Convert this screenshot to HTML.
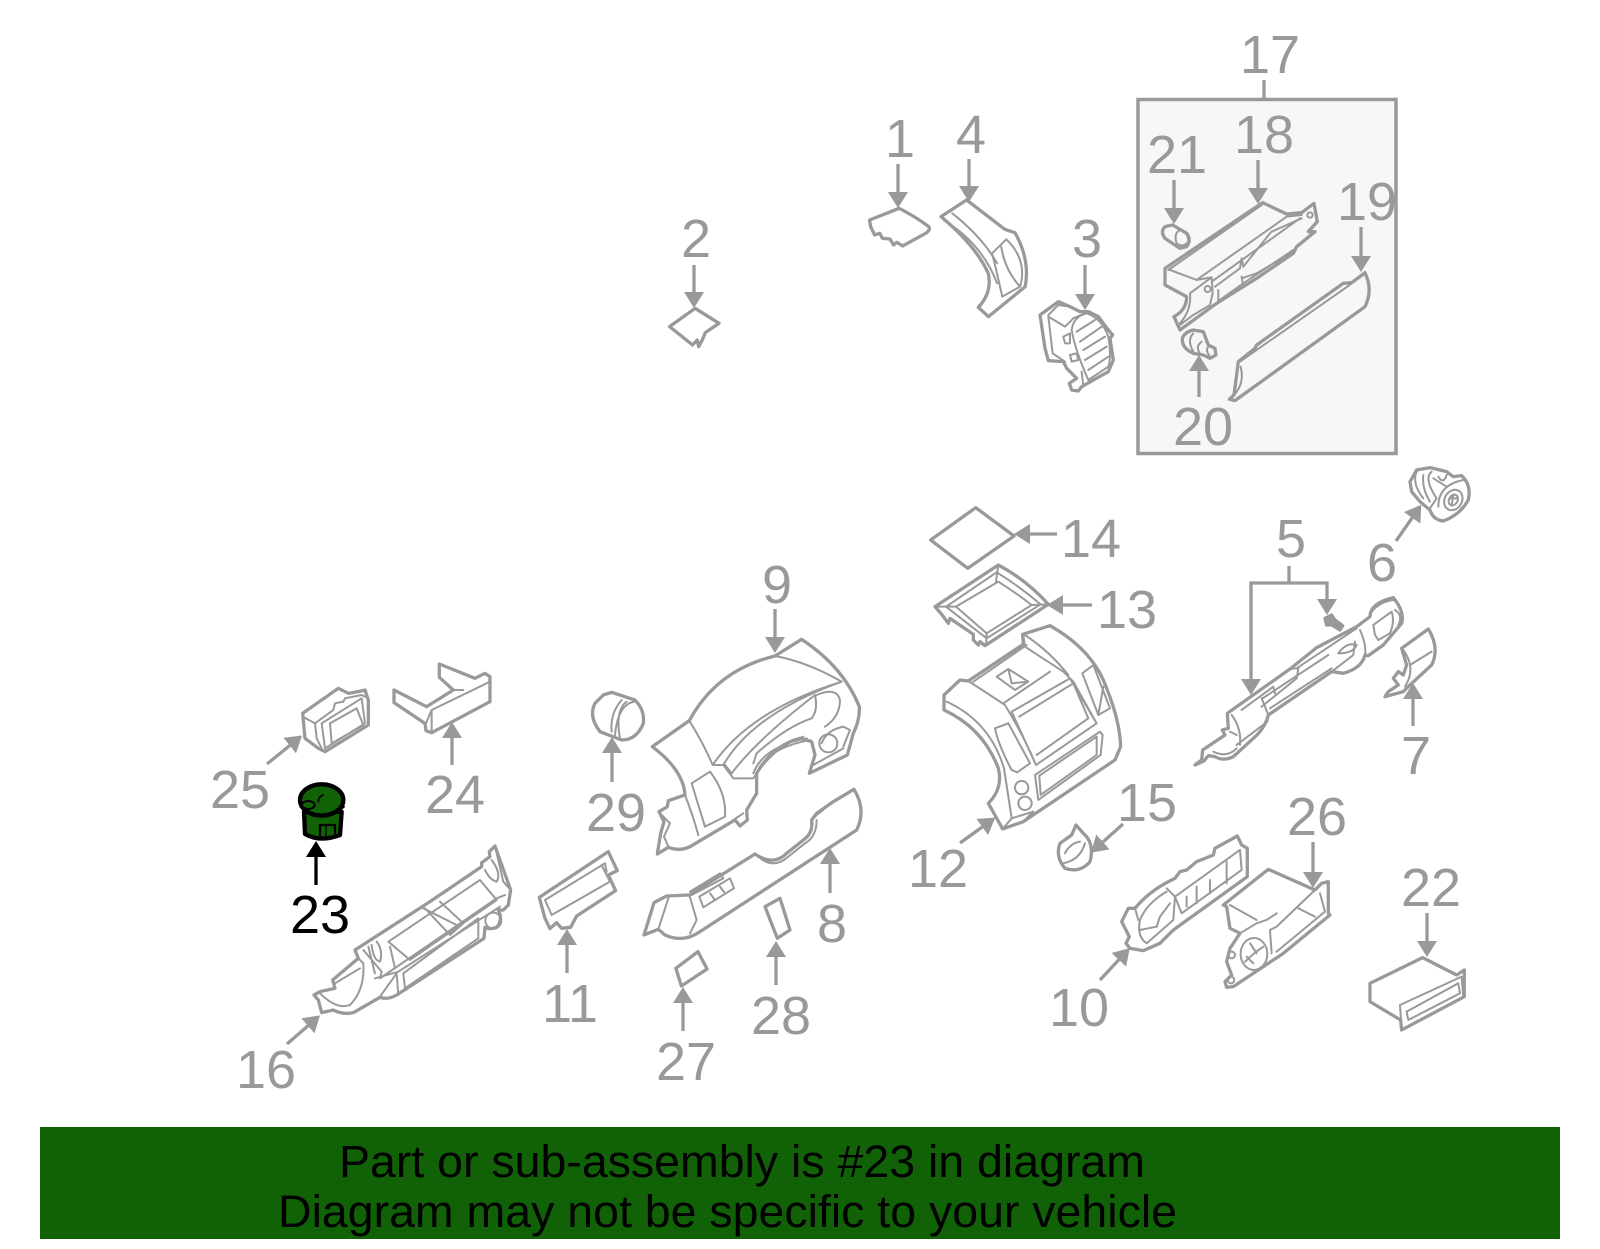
<!DOCTYPE html>
<html>
<head>
<meta charset="utf-8">
<style>
html,body{margin:0;padding:0;background:#fff;}
svg{display:block;}
.z *{fill:none;stroke:#999;stroke-width:3.3;vector-effect:non-scaling-stroke;stroke-linejoin:round;stroke-linecap:round;}
.z .t{stroke-width:2;}
.z .f{fill:#999;}
.a line,.a polyline{stroke:#999;stroke-width:3.3;fill:none;}
.l text{font-family:"Liberation Sans",sans-serif;font-size:54px;fill:#999;text-anchor:middle;}
</style>
</head>
<body>
<svg width="1600" height="1249" viewBox="0 0 1600 1249" xmlns="http://www.w3.org/2000/svg">
<defs>
<marker id="h" markerUnits="userSpaceOnUse" markerWidth="26" markerHeight="26" refX="12" refY="13" orient="auto"><polygon points="0,3 16,13 0,23" fill="#999"/></marker>
<marker id="k" markerUnits="userSpaceOnUse" markerWidth="26" markerHeight="26" refX="12" refY="13" orient="auto"><polygon points="0,3 16,13 0,23" fill="#000"/></marker>
</defs>
<rect width="1600" height="1249" fill="#fff"/>
<rect x="1138" y="99.5" width="258" height="354" fill="#f7f7f7" stroke="#999" stroke-width="3.5"/>
<line x1="1264" y1="80" x2="1264" y2="99" stroke="#999" stroke-width="3.3"/>

<!-- Parts 1 2 4 -->
<g class="z" transform="matrix(0.5102,0,0,0.3333,640,0)">
<path d="M108 925 L155 970 L128 998 L122 1020 L115 1040 L112 1020 L103 1035 L58 980 Z"/>
<path d="M508 625 Q540 650 566 680 Q570 690 560 700 L515 738 L503 727 L497 735 L490 717 L475 715 L470 700 L460 705 L452 680 L450 660 Z"/>
<path d="M640 600 L715 688 L735 698 Q765 780 755 860 L683 950 L663 922 Q690 880 683 822 Q660 740 590 650 Z"/>
<path class="t" d="M595 660 Q670 730 700 850 M612 640 Q670 710 700 790"/>
<path class="t" d="M690 760 L718 718 Q760 780 745 860 L710 890 Q700 820 690 760 Z M708 740 Q715 810 745 860"/>
</g>

<!-- Parts 3 18 19 20 21 -->
<g class="z" transform="translate(1030,190) scale(0.3333)">
<path d="M30 375 L85 335 L120 350 L150 365 L175 365 L205 380 L235 420 L248 435 L240 445 L250 510 L235 545 L155 590 L145 603 L125 600 L118 580 L140 565 L110 535 L100 515 L55 512 L45 475 Z"/>
<path class="t" d="M55 375 L85 345 L120 350 M55 380 L105 410 L130 385 L165 370 M55 380 L68 490 L105 515 M125 420 Q130 380 170 370 Q215 385 235 440 Q245 500 235 530 L175 570 Q135 480 125 420 Z M140 425 L195 390 M150 455 L215 410 M160 480 L225 440 M165 510 L230 470 M175 540 L235 500 M100 440 L120 430 L120 460 L105 460 Z M120 495 L140 490 L145 510 L125 515 Z M155 545 L160 590"/>
<path d="M428 105 L470 130 Q485 150 470 170 L450 175 L405 145 Q390 125 405 110 Z"/>
<path class="t" d="M450 120 Q430 130 440 160 Q460 175 475 155 Q475 125 450 120"/>
<path d="M698 38 L770 72 L815 68 L852 40 L862 95 L835 125 L855 125 L800 170 L790 190 L680 265 L640 290 L560 340 L450 420 L432 380 Q470 360 470 320 L405 285 L405 235 Z"/>
<path class="t" d="M420 240 L500 270 L545 262 L548 310 L540 345 L490 375 L450 405 M415 240 L695 45 M500 270 L770 80 L815 75 M545 275 L810 85 M555 290 L630 235 L635 205 L640 230 L720 130 L725 125 L815 85 M570 330 L640 280 L790 180 M480 310 L545 262 M480 310 Q485 360 450 400 M635 265 L680 250 L790 185 M635 260 L640 290 M565 300 L565 335"/>
<circle class="t" cx="533" cy="297" r="9"/>
<circle class="t" cx="840" cy="75" r="8"/>
<path d="M490 420 L520 425 L535 465 L555 475 L558 495 L540 505 L520 495 L490 490 Q455 475 457 445 Q465 425 490 420 Z"/>
<path class="t" d="M490 430 Q470 450 490 485 M515 455 Q495 470 510 490 M535 470 Q525 480 540 500"/>
<path d="M1005 248 Q1030 300 1005 350 L615 632 L598 628 L612 615 L625 515 L675 475 L680 465 L940 280 L965 278 Z"/>
<path class="t" d="M630 515 L680 480 L945 295 L1000 255 M632 530 Q645 580 612 615"/>
</g>

<!-- Parts 16 11 -->
<g class="z" transform="translate(300,840) scale(0.3333)">
<path d="M585 18 L632 150 L625 195 L610 210 L595 210 Q610 240 590 262 Q570 270 555 262 L552 295 L290 465 Q265 480 240 472 L160 518 Q130 525 100 510 L65 518 L55 480 L42 465 L60 455 L105 445 L98 420 L175 355 L165 330 L390 185 L545 80 L545 68 L570 50 L568 35 Z"/>
<path class="t" d="M60 460 Q110 510 150 495 Q195 450 190 370 L175 355 M105 430 L180 385 M190 330 L245 395 L240 415 L590 175 L615 165 M265 305 L330 360 L590 180 L540 120 Z M370 205 L470 255 M375 205 L450 285 M420 185 L490 250 L450 285 M240 470 L290 400 L295 465 M310 400 L315 445 L535 295 L535 235 L310 400 M225 415 L295 395 L600 200 M205 320 L225 400 M215 315 Q220 360 240 365 Q250 330 230 305 M270 320 L285 385 M585 18 L610 125 L632 150 M555 90 Q570 120 590 125 Q605 100 575 60"/>
<circle cx="580" cy="242" r="24" class="t"/>
<path d="M925 35 L952 92 L925 105 L947 152 L830 228 L812 262 L785 265 L770 248 L750 266 L735 235 L718 172 Z"/>
<path class="t" d="M735 180 L915 70 L920 95 M755 225 L735 180 M755 225 L930 125 L905 75"/>
</g>

<!-- Parts 9 8 28 -->
<g class="z" transform="translate(640,630) scale(0.3333)">
<path d="M37 350 L148 272 Q230 120 405 78 L485 28 Q610 110 658 230 Q660 270 640 310 L622 375 L508 430 L525 375 L515 335 L480 325 Q400 345 350 430 L350 490 L320 540 L322 570 L300 588 L285 570 L150 650 Q120 665 85 652 L52 672 L62 610 L72 575 L57 545 L82 530 L85 512 L135 495 Q130 420 37 350 Z"/>
<path class="t" d="M148 272 Q190 340 218 405 Q330 240 605 155 Q500 95 405 78 M218 405 L250 405 Q340 250 605 155 M250 405 L280 445 L340 445 Q400 350 490 320 M255 405 L275 430 Q350 330 525 195 Q535 240 515 265 Q440 290 350 370 L340 400 M530 195 Q590 170 600 210 Q600 260 555 290 M155 460 L210 425 Q260 490 255 560 L195 590 L155 460 Z M135 495 Q160 560 175 615 M340 430 Q370 350 500 325 M360 410 Q400 350 510 330 M545 340 Q560 300 610 290 L630 300 L610 350 M520 405 L610 355 M280 570 L310 550 M60 550 L90 580 L72 620 L85 650"/>
<circle class="t" cx="565" cy="340" r="27"/>
<path d="M642 478 Q680 540 650 600 L180 905 Q130 940 75 915 L55 898 L12 915 L42 818 L80 798 L148 795 L345 672 Q400 710 440 670 L490 630 Q520 610 515 570 L530 550 L580 515 Z"/>
<path class="t" d="M55 898 L85 805 M148 795 L170 870 L150 910 M150 785 L240 730 L250 745 L155 795 M178 800 L270 745 L282 775 L190 832 Z M210 790 L225 810 M240 770 L255 790 M355 680 Q400 720 445 680 L495 640 Q530 620 530 570 M515 570 L530 555 L550 540"/>
<path d="M420 805 L450 900 L412 925 L375 830 Z"/>
</g>

<!-- Part 27, 14 -->
<g class="z" transform="matrix(0.45914,0,0,0.3333,180,620)">
<path d="M1128 995 L1148 1047 L1092 1098 L1080 1045 Z"/>
</g>
<g class="z" transform="matrix(0.3827,0,0,0.3333,900,460)">
<path d="M198 143 L298 228 L177 325 L80 240 Z"/>
</g>

<!-- Parts 13 12 -->
<g class="z" transform="translate(930,555) scale(0.3333)">
<path d="M205 30 Q290 75 355 148 L165 272 L150 260 L145 270 L130 255 L130 238 L60 190 L55 205 L35 178 L15 155 Z"/>
<path class="t" d="M200 52 Q270 95 332 148 L170 250 L48 155 Z M205 80 Q260 115 305 150 L170 235 L78 155 Z M205 30 L198 80 M15 155 L78 155 M168 272 L170 235 M355 148 L305 150"/>
<path d="M360 212 Q490 285 530 400 Q570 500 572 575 L555 615 L280 800 L218 822 L175 745 Q220 700 205 640 Q160 520 42 465 L42 420 L90 375 L115 378 L280 268 L278 238 Z"/>
<path class="t" d="M115 378 Q180 420 225 450 M50 440 Q180 500 222 640 L245 790 M280 240 L285 275 L400 350 L430 380 L500 505 M285 240 Q360 290 415 360 M290 270 L130 380 M220 445 L360 350 M245 470 L420 370 L500 505 L318 630 L245 470 M268 485 L430 385 L475 490 L320 600 M225 450 Q280 540 318 630 M195 520 L235 505 L300 625 L262 652 L245 645 Q205 570 195 520 Z M457 355 L490 330 L540 460 L505 480 Z M520 395 L505 480 M315 660 L510 530 L518 540 L512 600 L325 735 Z M328 662 L500 545 L500 600 L332 720 Z M218 822 L245 790 L310 770 L280 800 M200 365 L235 342 L295 380 L255 405 Z M235 342 L245 385 M200 365 L255 405 M245 385 L295 380"/>
<circle class="t" cx="275" cy="698" r="20"/>
<circle class="t" cx="285" cy="745" r="20"/>
</g>

<!-- Parts 5 6 7 -->
<g class="z" transform="translate(1190,465) scale(0.3333)">
<path d="M660 50 L680 15 L720 8 L770 20 L790 35 L815 32 Q845 60 835 105 Q810 150 760 168 Q730 165 720 135 L690 110 L665 80 Z"/>
<path class="t" d="M680 20 Q665 55 700 100 M725 20 Q700 40 740 100 L720 130 M700 30 Q695 70 720 110 M745 35 Q760 60 770 30 M730 40 L770 65 M745 125 Q745 60 820 45 M780 100 L800 100 M790 90 L785 120"/>
<ellipse class="t" cx="790" cy="105" rx="26" ry="32" transform="rotate(30 790 105)"/>
<ellipse class="t" cx="790" cy="105" rx="13" ry="17" transform="rotate(30 790 105)"/>
<path d="M610 398 Q645 440 635 475 L580 540 L535 572 L525 570 Q515 610 460 625 L425 620 L235 750 Q225 790 190 820 L130 875 Q100 890 75 875 L55 872 L42 888 L15 900 L35 885 L38 855 L105 810 L97 795 L115 790 L112 745 L300 612 L380 548 L500 485 L540 455 Q540 415 610 398 Z"/>
<path class="t" d="M545 440 Q570 410 610 405 M615 435 Q640 450 625 480 M605 440 L550 480 L555 510 L565 525 L600 505 Q615 470 605 440 M510 495 Q530 540 525 570 M425 620 L490 570 L495 530 M445 565 Q470 530 500 540 Q490 565 445 565 M300 612 L320 610 L500 490 M215 700 L235 750 L232 770 L140 840 M125 750 Q155 790 150 840 M120 800 L140 810 M70 860 Q110 880 140 850 M215 725 L320 640 L325 610 M155 735 L250 665 L255 685 M218 700 L415 570 M240 730 L425 610"/>
<path class="f" d="M405 460 L425 450 L435 465 L458 482 L450 495 L425 480 L410 480 Z"/>
<path d="M715 492 Q750 550 725 600 L660 660 L640 680 L585 695 L595 680 L625 660 L610 640 L625 620 L640 630 L650 600 L635 550 Z"/>
<path class="t" d="M640 555 Q680 610 645 665 M660 600 L725 560"/>
</g>

<!-- Parts 25 24 29 -->
<g class="z" transform="translate(290,660) scale(0.3333)">
<path d="M38 160 L145 85 L175 100 L205 95 L225 90 L235 120 L235 195 L105 275 L85 265 L45 235 Z"/>
<path class="t" d="M38 170 L75 190 L130 150 L135 130 L160 125 L165 115 L215 105 L225 110 M75 190 L80 235 L95 265 M95 190 L215 115 L225 190 L105 265 Z M120 190 L200 145 L220 195 L125 250 Z"/>
<path d="M312 90 L410 140 L490 90 L448 52 L448 12 L555 55 L585 40 L600 50 L600 125 L425 218 L408 212 L405 190 L312 128 Z"/>
<path class="t" d="M408 190 L425 150 L600 65 M425 218 L425 150 M490 90 L520 90"/>
<path d="M940 105 L965 97 L1035 120 Q1065 150 1060 190 Q1040 240 995 240 L930 215 Q895 170 915 130 Z"/>
<path class="t" d="M995 120 Q960 160 965 215 M1010 125 Q975 150 990 235 M1035 125 Q985 130 975 225"/>
</g>

<!-- Parts 15 10 26 22 -->
<g class="z" transform="translate(1000,780) scale(0.3333)">
<path d="M228 135 L250 160 Q285 190 270 245 Q240 280 195 265 Q165 230 180 190 L215 165 Z"/>
<path class="t" d="M190 250 Q240 240 255 190 M195 220 Q210 190 240 185"/>
<path d="M712 168 L725 195 L742 205 L742 290 L520 450 L480 490 L430 512 L390 505 L378 490 L388 470 L365 425 L385 385 L405 385 Q450 330 525 295 L540 275 L560 270 L590 245 L640 225 L645 205 Z"/>
<path class="t" d="M500 325 L525 350 L520 420 L440 490 Q410 470 420 420 Q440 370 500 335 M525 350 L720 210 L725 270 L545 400 L525 350 M420 450 L470 440 L480 410 L510 370 M560 350 L560 380 M590 320 L590 370 M630 300 L630 340 M680 245 L680 310 M405 385 L415 420"/>
<path d="M805 268 L945 330 L965 310 L985 305 L985 400 L990 405 L850 520 L700 620 L680 622 L675 605 L695 585 L680 545 L690 505 L720 460 L690 445 L680 380 L670 375 Z"/>
<path class="t" d="M945 330 L830 440 L810 450 L815 520 M690 375 L770 420 M895 385 L945 410 M960 340 L975 395 L830 515 M770 430 L800 420 L830 400 M720 460 L770 430"/>
<ellipse class="t" cx="762" cy="522" rx="40" ry="48"/>
<path class="t" d="M735 545 Q760 520 790 500 M750 490 L770 520 M740 530 L760 550"/>
<circle class="t" cx="695" cy="525" r="10"/>
<circle class="t" cx="693" cy="600" r="10"/>
<path d="M1268 533 L1370 585 L1393 570 L1393 650 L1205 750 L1202 720 L1110 665 L1110 610 Z"/>
<path class="t" d="M1200 675 L1385 590 L1390 650 M1200 675 L1205 748 M1220 695 L1375 610 L1380 640 L1225 720 Z"/>
</g>

<!-- Part 23 highlighted -->
<g transform="translate(290,660) scale(0.3333)" stroke="#000" fill="#116206" stroke-linejoin="round" stroke-linecap="round">
<path d="M42 455 L45 522 Q90 548 150 525 L155 455 Z" stroke-width="13"/>
<ellipse cx="95" cy="420" rx="65" ry="47" stroke-width="13"/>
<path d="M33 440 Q90 490 160 440" fill="none" stroke-width="9"/>
<ellipse cx="55" cy="435" rx="19" ry="12" stroke-width="6"/>
<path d="M90 532 L90 495 L135 495 L135 528" fill="none" stroke-width="7"/>
<path d="M85 425 Q85 410 100 405" fill="none" stroke-width="5"/>
<path d="M108 500 L108 535" fill="none" stroke-width="4"/>
</g>

<!-- Arrows -->
<g class="a">
<line x1="898" y1="164" x2="898" y2="204" marker-end="url(#h)"/>
<line x1="969" y1="159" x2="969" y2="198" marker-end="url(#h)"/>
<line x1="694" y1="265" x2="694" y2="304" marker-end="url(#h)"/>
<line x1="1085" y1="265" x2="1085" y2="306" marker-end="url(#h)"/>
<line x1="1258" y1="160" x2="1258" y2="200" marker-end="url(#h)"/>
<line x1="1174" y1="180" x2="1174" y2="220" marker-end="url(#h)"/>
<line x1="1361" y1="227" x2="1361" y2="268" marker-end="url(#h)"/>
<line x1="1199" y1="397" x2="1199" y2="359" marker-end="url(#h)"/>
<line x1="1057" y1="534" x2="1018" y2="534" marker-end="url(#h)"/>
<line x1="1092" y1="605" x2="1051" y2="605" marker-end="url(#h)"/>
<polyline points="1289,566 1289,583 1251,583 1251,691" marker-end="url(#h)"/>
<polyline points="1289,583 1327,583 1327,611" marker-end="url(#h)"/>
<line x1="1396" y1="541" x2="1419" y2="508" marker-end="url(#h)"/>
<line x1="1413" y1="726" x2="1413" y2="687" marker-end="url(#h)"/>
<line x1="960" y1="843" x2="992" y2="820" marker-end="url(#h)"/>
<line x1="1123" y1="824" x2="1094" y2="850" marker-end="url(#h)"/>
<line x1="1313" y1="842" x2="1313" y2="884" marker-end="url(#h)"/>
<line x1="1427" y1="913" x2="1427" y2="953" marker-end="url(#h)"/>
<line x1="1100" y1="980" x2="1127" y2="951" marker-end="url(#h)"/>
<line x1="267" y1="764" x2="299" y2="738" marker-end="url(#h)"/>
<line x1="452" y1="765" x2="452" y2="726" marker-end="url(#h)"/>
<line x1="612" y1="782" x2="612" y2="741" marker-end="url(#h)"/>
<line x1="316" y1="885" x2="316" y2="845" style="stroke:#000" marker-end="url(#k)"/>
<line x1="567" y1="973" x2="567" y2="933" marker-end="url(#h)"/>
<line x1="830" y1="893" x2="830" y2="852" marker-end="url(#h)"/>
<line x1="776" y1="985" x2="776" y2="945" marker-end="url(#h)"/>
<line x1="683" y1="1031" x2="683" y2="991" marker-end="url(#h)"/>
<line x1="287" y1="1044" x2="317" y2="1018" marker-end="url(#h)"/>
<line x1="775" y1="609" x2="775" y2="649" marker-end="url(#h)"/>
</g>

<!-- Labels -->
<g class="l">
<text x="1270" y="73">17</text>
<text x="900" y="157">1</text>
<text x="971" y="153">4</text>
<text x="696" y="257">2</text>
<text x="1087" y="257">3</text>
<text x="1264" y="153">18</text>
<text x="1177" y="173">21</text>
<text x="1367" y="220">19</text>
<text x="1203" y="445">20</text>
<text x="1091" y="557">14</text>
<text x="1127" y="628">13</text>
<text x="1291" y="557">5</text>
<text x="1382" y="581">6</text>
<text x="1416" y="774">7</text>
<text x="1147" y="821">15</text>
<text x="1317" y="835">26</text>
<text x="1431" y="906">22</text>
<text x="1079" y="1026">10</text>
<text x="938" y="887">12</text>
<text x="240" y="808">25</text>
<text x="455" y="813">24</text>
<text x="616" y="831">29</text>
<text x="320" y="933" style="fill:#000">23</text>
<text x="570" y="1022">11</text>
<text x="832" y="942">8</text>
<text x="781" y="1034">28</text>
<text x="686" y="1080">27</text>
<text x="266" y="1088">16</text>
<text x="777" y="603">9</text>
</g>

<!-- Banner -->
<rect x="40" y="1127" width="1520" height="112" fill="#116206"/>
<text x="339" y="1177" font-family="'Liberation Sans',sans-serif" font-size="45" fill="#000" textLength="806" lengthAdjust="spacingAndGlyphs">Part or sub-assembly is #23 in diagram</text>
<text x="278" y="1227" font-family="'Liberation Sans',sans-serif" font-size="45" fill="#000" textLength="899" lengthAdjust="spacingAndGlyphs">Diagram may not be specific to your vehicle</text>
</svg>
</body>
</html>
